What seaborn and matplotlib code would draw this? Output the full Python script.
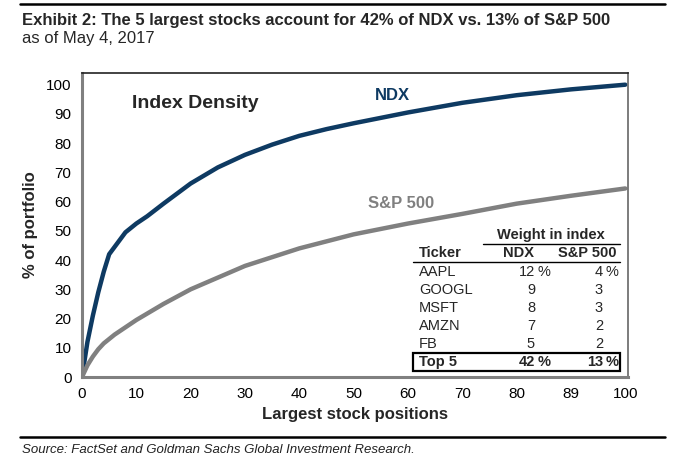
import matplotlib
matplotlib.use('Agg')
import matplotlib.pyplot as plt
import seaborn as sns
import pandas as pd

# dados
ndx_pos = [0, 1, 2, 3, 4, 5, 6, 7, 8, 10, 12, 15, 20, 25, 30, 35, 40, 45, 50, 60, 70, 80, 90, 100]
ndx_pct = [0, 12, 21, 29, 36, 42, 44.5, 47, 49.5, 52.5, 55, 59.3, 66.2, 71.7, 76, 79.5, 82.5, 84.8, 86.8, 90.5, 93.8, 96.4, 98.4, 100]
spx_pos = [0, 1, 2, 3, 4, 5, 6, 8, 10, 15, 20, 25, 30, 35, 40, 50, 60, 70, 80, 90, 100]
spx_pct = [0, 4, 7, 9.5, 11.5, 13, 14.5, 17, 19.5, 25, 30, 34, 38, 41, 44, 48.8, 52.5, 55.8, 59.3, 62, 64.5]

x_ticks = [0, 10, 20, 30, 40, 50, 60, 70, 80, 90, 100]
x_tick_labels = ['0', '10', '20', '30', '40', '50', '60', '70', '80', '89', '100']
y_ticks = list(range(0, 101, 10))

tickers = ['AAPL', 'GOOGL', 'MSFT', 'AMZN', 'FB']
w_ndx = ['12', '9', '8', '7', '5']
w_spx = ['4', '3', '3', '2', '2']
top5_ndx = '42'
top5_spx = '13'

NAVY = '#0e3a62'
GRAY = '#808080'

df = pd.concat([
    pd.DataFrame({'pos': ndx_pos, 'pct': ndx_pct, 'indice': 'NDX'}),
    pd.DataFrame({'pos': spx_pos, 'pct': spx_pct, 'indice': 'S&P 500'}),
])

sns.set_style('white')
plt.rcParams['font.family'] = ['Liberation Sans', 'DejaVu Sans']

W, H = 676, 461
fig = plt.figure(figsize=(W / 100, H / 100), dpi=100)
ax = fig.add_axes([82 / W, 1 - 377 / H, (628 - 82) / W, (377 - 73) / H])

sns.lineplot(data=df, x='pos', y='pct', hue='indice', palette={'NDX': NAVY, 'S&P 500': GRAY},
             linewidth=3.2, legend=False, ax=ax)

ax.set_xlim(0, 100.5)
ax.set_ylim(0, 104)
ax.set_xticks(x_ticks)
ax.set_xticklabels(x_tick_labels)
ax.set_yticks(y_ticks)
ax.tick_params(axis='both', labelsize=11, colors='black', length=4, width=1.2, direction='out')
ax.tick_params(axis='both', color=GRAY)
for s in ['left', 'bottom']:
    ax.spines[s].set_color(GRAY)
    ax.spines[s].set_linewidth(2.2)
ax.spines['top'].set_color('#222222')
ax.spines['top'].set_linewidth(1.2)
ax.spines['right'].set_color('#666666')
ax.spines['right'].set_linewidth(1.2)
ax.set_xlabel('Largest stock positions', fontsize=12, fontweight='bold', labelpad=4)
ax.set_ylabel('% of portfolio', fontsize=12, fontweight='bold', labelpad=6)

# textos dentro do grafico
def px(x, y):
    return x / W, 1 - y / H

fig.text(*px(195, 104), 'Index Density', fontsize=14, fontweight='bold', ha='center', va='center')
fig.text(*px(392, 96), 'NDX', fontsize=12, fontweight='bold', ha='center', va='center', color=NAVY)
fig.text(*px(401, 203), 'S&P 500', fontsize=12, fontweight='bold', ha='center', va='center', color=GRAY)

# tabela
fig.text(*px(551, 235), 'Weight in index', fontsize=10.5, fontweight='bold', ha='center', va='center')
fig.add_artist(plt.Line2D([483 / W, 620 / W], [1 - 244 / H, 1 - 244 / H], color='black', lw=1))
fig.text(*px(419, 253), 'Ticker', fontsize=10.5, fontweight='bold', ha='left', va='center')
fig.text(*px(518, 253), 'NDX', fontsize=10.5, fontweight='bold', ha='center', va='center')
fig.text(*px(587, 253), 'S&P 500', fontsize=10.5, fontweight='bold', ha='center', va='center')
fig.add_artist(plt.Line2D([413 / W, 620 / W], [1 - 262 / H, 1 - 262 / H], color='black', lw=1))

rows_y = [272, 290, 308, 326, 344]
for i, (t, a, b) in enumerate(zip(tickers, w_ndx, w_spx)):
    y = rows_y[i]
    fig.text(*px(419, y), t, fontsize=10.5, ha='left', va='center')
    fig.text(*px(535, y), a, fontsize=10.5, ha='right', va='center')
    fig.text(*px(603, y), b, fontsize=10.5, ha='right', va='center')
    if i == 0:
        fig.text(*px(538, y), '%', fontsize=10.5, ha='left', va='center')
        fig.text(*px(606, y), '%', fontsize=10.5, ha='left', va='center')

fig.add_artist(plt.Rectangle((413 / W, 1 - 371 / H), 207 / W, 18 / H, fill=False, ec='black', lw=1.6))
fig.text(*px(419, 362), 'Top 5', fontsize=10.5, fontweight='bold', ha='left', va='center')
fig.text(*px(535, 362), top5_ndx, fontsize=10.5, fontweight='bold', ha='right', va='center')
fig.text(*px(538, 362), '%', fontsize=10.5, fontweight='bold', ha='left', va='center')
fig.text(*px(603, 362), top5_spx, fontsize=10.5, fontweight='bold', ha='right', va='center')
fig.text(*px(606, 362), '%', fontsize=10.5, fontweight='bold', ha='left', va='center')

# titulo e fonte
fig.add_artist(plt.Line2D([20 / W, 665 / W], [1 - 4 / H, 1 - 4 / H], color='black', lw=1.8))
fig.text(*px(22, 20), 'Exhibit 2: The 5 largest stocks account for 42% of NDX vs. 13% of S&P 500',
         fontsize=12, fontweight='bold', ha='left', va='center')
fig.text(*px(22, 38), 'as of May 4, 2017', fontsize=12, ha='left', va='center')
fig.add_artist(plt.Line2D([20 / W, 665 / W], [1 - 437 / H, 1 - 437 / H], color='black', lw=1.8))
fig.text(*px(22, 450), 'Source: FactSet and Goldman Sachs Global Investment Research.',
         fontsize=9.5, style='italic', ha='left', va='center', color='#222222')

fig.savefig('out.png', dpi=100)
